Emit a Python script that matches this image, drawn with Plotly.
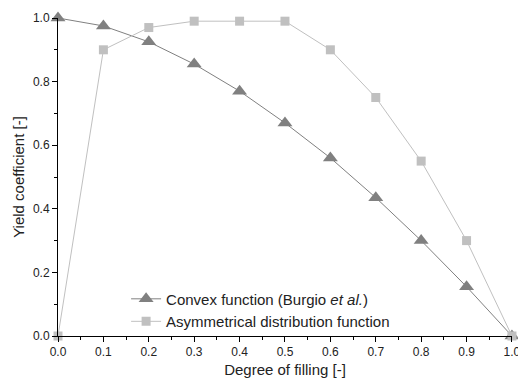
import plotly.graph_objects as go

x_vals = [0.0, 0.1, 0.2, 0.3, 0.4, 0.5, 0.6, 0.7, 0.8, 0.9, 1.0]
convex = [1.0, 0.975, 0.925, 0.855, 0.77, 0.67, 0.56, 0.435, 0.30, 0.155, 0.0]
asym = [0.0, 0.90, 0.97, 0.99, 0.99, 0.99, 0.90, 0.75, 0.55, 0.30, 0.0]

fig = go.Figure()
fig.add_trace(go.Scatter(
    x=x_vals, y=convex, mode="lines+markers",
    name="Convex function (Burgio <i>et al.</i>)",
    line=dict(color="#808080", width=1),
    marker=dict(symbol="triangle-up", size=13, color="#808080"),
    cliponaxis=False,
))
fig.add_trace(go.Scatter(
    x=x_vals, y=asym, mode="lines+markers",
    name="Asymmetrical distribution function",
    line=dict(color="#c0c0c0", width=1),
    marker=dict(symbol="square", size=9, color="#c0c0c0"),
    cliponaxis=False,
))

axis_common = dict(
    showgrid=False, zeroline=False, showline=True, linecolor="black", linewidth=1,
    ticks="outside", ticklen=5, tickwidth=1, tickcolor="black",
    tickfont=dict(family="Liberation Sans, Arial", size=12, color="#222"),
    ticklabeloverflow="allow", automargin=False,
)
fig.update_layout(
    width=518, height=383,
    margin=dict(l=58, r=6, t=18, b=47),
    paper_bgcolor="white", plot_bgcolor="white",
    font=dict(family="Liberation Sans, Arial", size=12, color="#222"),
    xaxis=dict(range=[0, 1.0001], dtick=0.1, tickformat=".1f",
               title=dict(text="Degree of filling [-]", standoff=6,
                          font=dict(size=15, color="#222")),
               minor=dict(dtick=0.05, ticks="outside", ticklen=3, tickcolor="black"),
               **axis_common),
    yaxis=dict(range=[0, 1], dtick=0.2, tickformat=".1f",
               title=dict(text="Yield coefficient [-]", standoff=4,
                          font=dict(size=15, color="#222")),
               minor=dict(dtick=0.1, ticks="outside", ticklen=3, tickcolor="black"),
               **axis_common),
    showlegend=True,
    legend=dict(x=0.15, y=0.168, xanchor="left", yanchor="top",
                bgcolor="rgba(0,0,0,0)", font=dict(size=15, color="#222"),
                tracegroupgap=0, itemwidth=30),
)
fig.write_html("out.html")
